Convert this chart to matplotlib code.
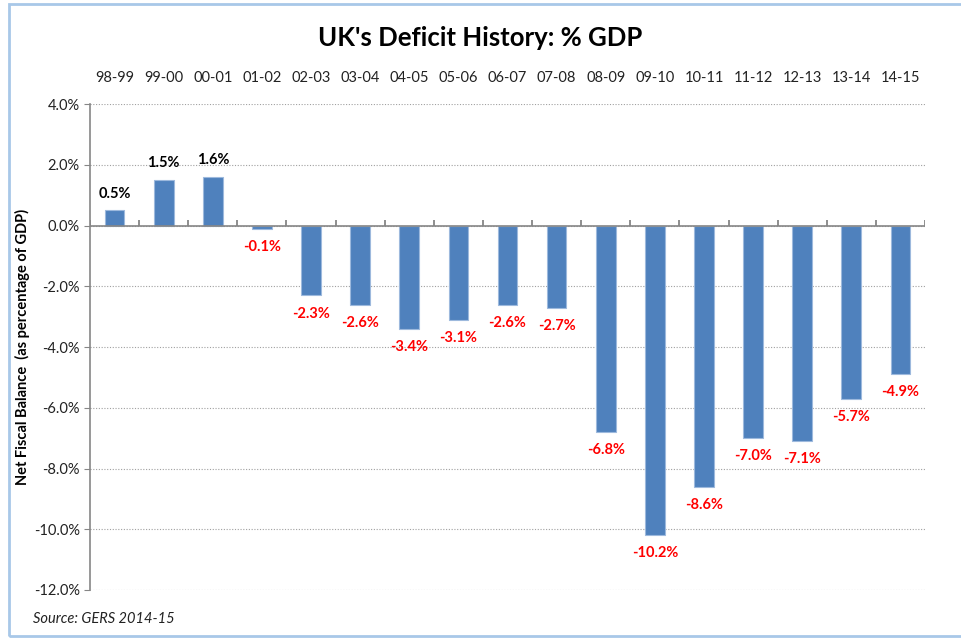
import numpy as np
import matplotlib
matplotlib.use("Agg")
import matplotlib.pyplot as plt
from matplotlib.patches import Rectangle
from matplotlib.ticker import FuncFormatter

plt.rcParams['font.family'] = ['Lato', 'DejaVu Sans']

years = ['98-99', '99-00', '00-01', '01-02', '02-03', '03-04', '04-05', '05-06', '06-07',
         '07-08', '08-09', '09-10', '10-11', '11-12', '12-13', '13-14', '14-15']
balance = [0.5, 1.5, 1.6, -0.1, -2.3, -2.6, -3.4, -3.1, -2.6,
           -2.7, -6.8, -10.2, -8.6, -7.0, -7.1, -5.7, -4.9]

fig = plt.figure(figsize=(9.62, 6.39), dpi=100)
ax = fig.add_axes([0.0936, 0.0767, 0.8679, 0.7603])

x = np.arange(len(years))
ax.bar(x, balance, width=0.4, color='#4F81BD', edgecolor='#9DB9DD', linewidth=0.8, zorder=3)

for xi, v in zip(x, balance):
    if v >= 0:
        ax.annotate(f'{v:.1f}%', (xi, v), xytext=(0, 12), textcoords='offset points',
                    ha='center', va='center', fontsize=10.5, fontweight='bold', color='black')
    else:
        ax.annotate(f'{v:.1f}%', (xi, v), xytext=(0, -13), textcoords='offset points',
                    ha='center', va='center', fontsize=10.5, fontweight='bold', color='#FF0000')

ax.set_xlim(-0.5, len(years) - 0.5)
ax.set_ylim(-12, 4)
ax.set_yticks(np.arange(-12, 5, 2))
ax.yaxis.set_major_formatter(FuncFormatter(lambda v, p: f'{v:.1f}%'))
ax.tick_params(axis='y', labelsize=10.5, length=4, color='#868686', labelcolor='#222222')
ax.grid(axis='y', linestyle=(0, (1, 1.5)), color='#A0A0A0', linewidth=0.8, zorder=0)

# category labels on top
ax.set_xticks(x)
ax.set_xticklabels(years)
ax.tick_params(axis='x', top=False, bottom=False, labeltop=True, labelbottom=False,
               length=0, labelsize=10.5, pad=14, labelcolor='#222222')

# zero line with small boundary ticks
boundaries = np.arange(-0.5, len(years), 1)
ax.axhline(0, color='#868686', linewidth=1.2, zorder=4)
ax.vlines(boundaries, 0, 0.2, color='#868686', linewidth=1.3, zorder=4)

for s in ['top', 'right', 'bottom']:
    ax.spines[s].set_visible(False)
ax.spines['left'].set_color('#868686')
ax.spines['left'].set_linewidth(1.2)

ax.set_ylabel('Net Fiscal Balance  (as percentage of GDP)', fontsize=10.5, fontweight='bold')
ax.yaxis.set_label_coords(-0.072, 0.5)

fig.text(0.499, 0.94, "UK's Deficit History: % GDP", ha='center', va='center',
         fontsize=18.5, fontweight='bold')
fig.text(0.034, 0.031, 'Source: GERS 2014-15', ha='left', va='center',
         fontsize=10.5, style='italic', color='#222222')

fig.patches.append(Rectangle((0.009, 0.005), 0.995, 0.988, transform=fig.transFigure,
                             fill=False, edgecolor='#A8C8E8', linewidth=2))

fig.savefig('out.png', dpi=100)
